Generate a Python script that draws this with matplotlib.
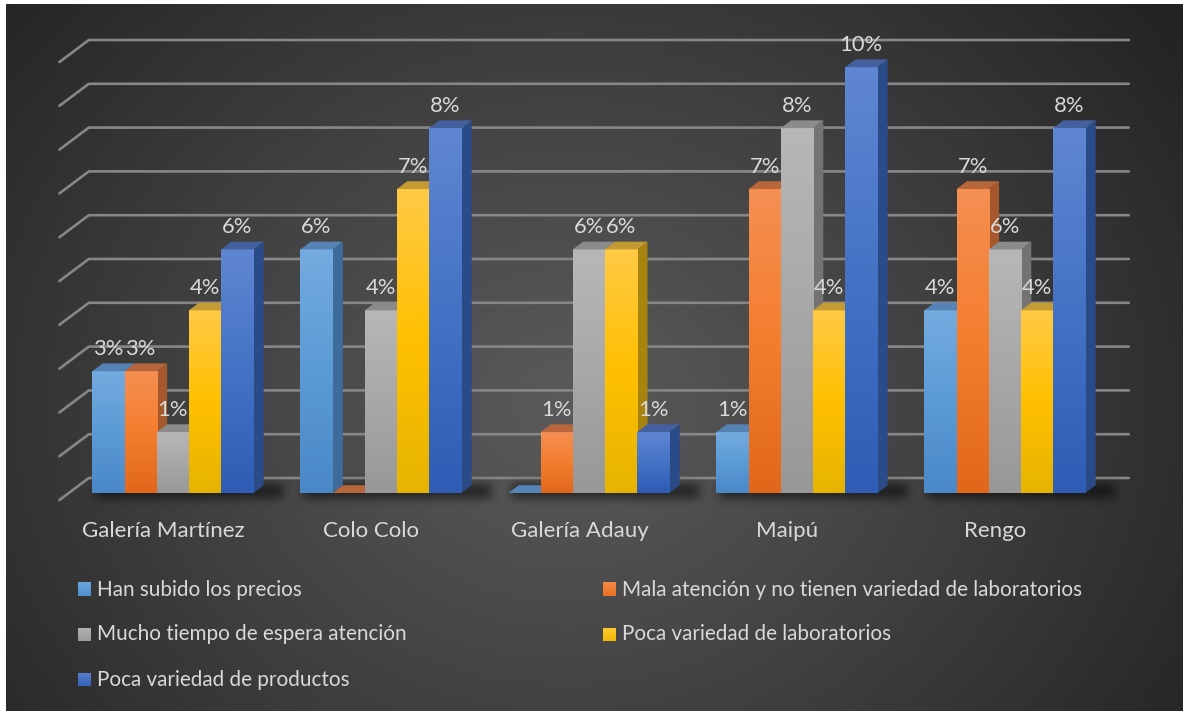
import numpy as np
import matplotlib
matplotlib.use("Agg")
import matplotlib.pyplot as plt
from matplotlib.patches import Polygon
from matplotlib.colors import to_rgb

plt.rcParams["font.family"] = ["Lato", "DejaVu Sans"]

# ---------------------------------------------------------------- data
categories = ["Galería Martínez", "Colo Colo", "Galería Adauy", "Maipú", "Rengo"]
series_names = [
    "Han subido los precios",
    "Mala atención y no tienen variedad de laboratorios",
    "Mucho tiempo de espera atención",
    "Poca variedad de laboratorios",
    "Poca variedad de productos",
]
# share of answers per location, in percent
han_subido = [2.78, 5.56, 0.00, 1.39, 4.17]
mala_atencion = [2.78, 0.00, 1.39, 6.94, 6.94]
mucho_tiempo = [1.39, 4.17, 5.56, 8.33, 5.56]
poca_laboratorios = [4.17, 6.94, 5.56, 4.17, 4.17]
poca_productos = [5.56, 8.33, 1.39, 9.72, 8.33]
grid_values = list(range(0, 11))

series_values = [han_subido, mala_atencion, mucho_tiempo, poca_laboratorios, poca_productos]

# face colours: front gradient (top, middle, bottom), top face, side face
front_colors = [
    ("#74abe0", "#5b9bd5", "#4a88c8"),
    ("#f58f52", "#f47d2e", "#e1681b"),
    ("#b7b7b7", "#a8a8a8", "#989898"),
    ("#ffca45", "#ffc000", "#e6b400"),
    ("#5f86d2", "#4472c4", "#2f5db5"),
]
top_colors = ["#5683b6", "#b8663c", "#8b8b8b", "#c49a33", "#43609f"]
side_colors = ["#3f6b9a", "#a5582b", "#737373", "#a8830f", "#2a4a88"]
legend_colors = [
    ("#6aa6dc", "#4f90cf"),
    ("#f48a48", "#e8711f"),
    ("#b2b2b2", "#9b9b9b"),
    ("#ffc935", "#f0b800"),
    ("#557dcc", "#3463ba"),
]
TEXT = "#d9d9d9"

# ---------------------------------------------------------------- layout
W_PX, H_PX, DPI = 1183, 711, 100
CAT_PX, PCT_PX = 208.0, 43.8          # pixels per category / per percent
X0_PX, BASE_PX = 172.8, 493.0         # first category centre, value 0


def dx(px):
    return (px - X0_PX) / CAT_PX


def dy(py):
    return (BASE_PX - py) / PCT_PX


DEPTH_X = 20.0 / CAT_PX               # oblique projection of one depth unit
DEPTH_Y = 15.0 / PCT_PX
BAR_W = 32.2 / CAT_PX
BAR_DEPTH = 0.52
FLOOR_FRONT = -0.47

fig = plt.figure(figsize=(W_PX / DPI, H_PX / DPI), dpi=DPI, facecolor="white")

# radial background panel
bg = fig.add_axes([6 / W_PX, 0, 1 - 6 / W_PX, 1 - 4 / H_PX], zorder=0)
bg.set_axis_off()
ph, pw = H_PX - 4, W_PX - 6
yy, xx = np.mgrid[0:ph, 0:pw]
r = np.hypot((xx - 560) / 1.0, (yy - 400) / 0.85)
t = np.clip(r / 760.0, 0, 1) ** 1.1
c_in = np.array(to_rgb("#5a5a5a"))
c_out = np.array(to_rgb("#232323"))
bg.imshow(c_in + (c_out - c_in) * t[..., None], extent=(0, 1, 0, 1),
          aspect="auto", interpolation="bilinear")
bg.set_xlim(0, 1)
bg.set_ylim(0, 1)

ax = fig.add_axes([0, 0, 1, 1], zorder=1)
ax.set_axis_off()
ax.patch.set_alpha(0)
XLIM = (dx(0), dx(W_PX))
YLIM = (dy(H_PX), dy(0))

# back wall gridlines with the left floor edge
n_cat = len(categories)
for v in grid_values:
    xs = [-0.5 + FLOOR_FRONT * DEPTH_X, -0.5 + DEPTH_X, n_cat - 0.5 + DEPTH_X]
    ys = [v + FLOOR_FRONT * DEPTH_Y, v + DEPTH_Y, v + DEPTH_Y]
    ax.plot(xs, ys, color="#878787", lw=1.9, solid_capstyle="round", zorder=1)

# soft floor shadow under each cluster
n_ser = len(series_values)
mask = np.zeros((H_PX, W_PX))
for i in range(n_cat):
    gl = X0_PX + CAT_PX * (i - n_ser / 2 * BAR_W)
    gr = X0_PX + CAT_PX * (i + n_ser / 2 * BAR_W + BAR_DEPTH * DEPTH_X)
    x0, x1 = int(gl) + 4, int(gr) + 20
    y0, y1 = int(BASE_PX) - 9, int(BASE_PX) + 5
    mask[y0:y1, x0:x1] = 1.0
k = 11
kern = np.ones(k) / k
for _ in range(2):
    mask = np.apply_along_axis(lambda m: np.convolve(m, kern, mode="same"), 1, mask)
    mask = np.apply_along_axis(lambda m: np.convolve(m, kern, mode="same"), 0, mask)
shadow = np.zeros((H_PX, W_PX, 4))
shadow[..., 3] = mask * 0.55
ax.imshow(shadow, extent=(XLIM[0], XLIM[1], YLIM[0], YLIM[1]), origin="upper",
          aspect="auto", interpolation="bilinear", zorder=1.5)


def gradient(colors, n=64):
    if len(colors) == 2:
        colors = (colors[0], tuple((np.array(to_rgb(colors[0])) + np.array(to_rgb(colors[1]))) / 2), colors[1])
    top, mid, bot = (np.array(to_rgb(c)) for c in colors)
    s = np.linspace(0, 1, n)[:, None]
    out = np.where(s < 0.5, top + (mid - top) * (s / 0.5), mid + (bot - mid) * ((s - 0.5) / 0.5))
    return out[:, None, :]


z = 2.0
for i in range(n_cat):
    for j in range(n_ser):
        v = series_values[j][i]
        left = i - n_ser / 2 * BAR_W + j * BAR_W
        right = left + BAR_W
        ox, oy = BAR_DEPTH * DEPTH_X, BAR_DEPTH * DEPTH_Y
        side = Polygon([(right, 0), (right + ox, oy), (right + ox, v + oy), (right, v)],
                       closed=True, facecolor=side_colors[j], edgecolor="none", zorder=z)
        ax.add_patch(side)
        z += 0.01
        if v > 0:
            ax.imshow(gradient(front_colors[j]), extent=(left, right, 0, v), origin="upper",
                      aspect="auto", interpolation="bilinear", zorder=z)
        z += 0.01
        top = Polygon([(left, v), (right, v), (right + ox, v + oy), (left + ox, v + oy)],
                      closed=True, facecolor=top_colors[j], edgecolor="none", zorder=z)
        ax.add_patch(top)
        z += 0.01
        if v > 0:
            ax.text((left + right) / 2, v + 16.5 / PCT_PX, f"{v:.0f}%", ha="center",
                    va="baseline", fontsize=15.8, color=TEXT, zorder=20)

# category labels along the front floor edge
for i, name in enumerate(categories):
    ax.text(i + FLOOR_FRONT * DEPTH_X, dy(536.7), name, ha="center", va="baseline",
            fontsize=16, color=TEXT, zorder=20)

# legend: two columns, filled row by row
legend_cols = [77.7, 602.7]
legend_rows = [595.5, 640.5, 685.5]
for j, name in enumerate(series_names):
    col, row = j % 2, j // 2
    sx = legend_cols[col]
    base = legend_rows[row]
    ax.imshow(gradient(legend_colors[j]),
              extent=(dx(sx), dx(sx + 13), dy(base + 0.5), dy(base - 12.5)),
              origin="upper", aspect="auto", interpolation="bilinear", zorder=20)
    ax.text(dx(sx + 19.5), dy(base), name, ha="left", va="baseline", fontsize=14.9,
            color=TEXT, zorder=20)

ax.set_xlim(*XLIM)
ax.set_ylim(*YLIM)

fig.savefig("out.png", dpi=DPI, facecolor=fig.get_facecolor())
